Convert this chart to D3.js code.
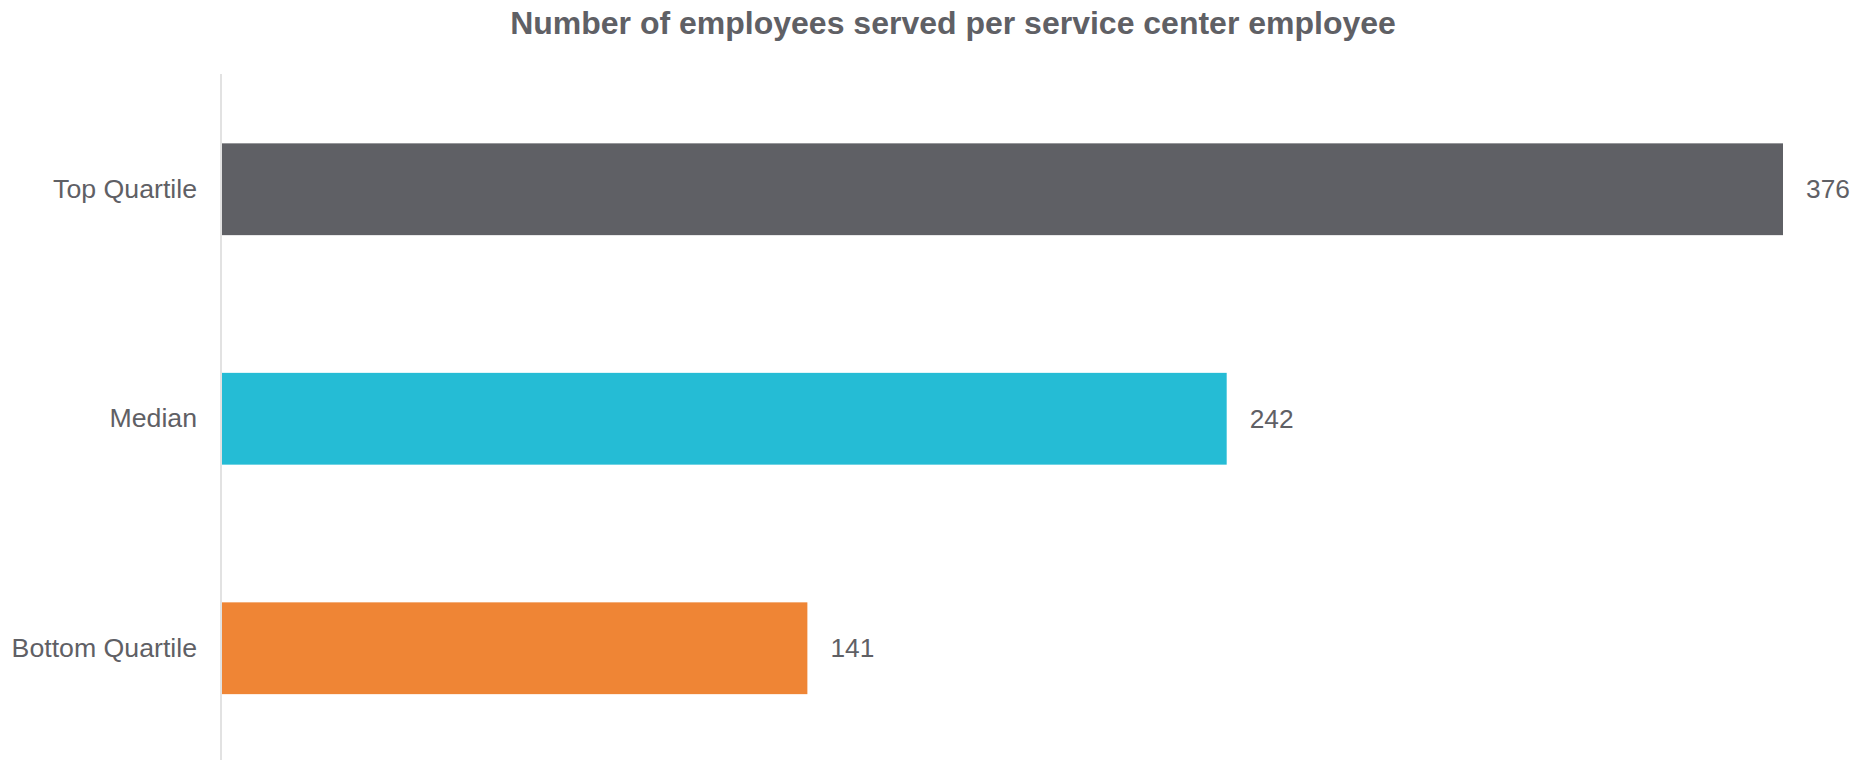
<!DOCTYPE html>
<html>
<head>
<meta charset="utf-8">
<script src="https://cdn.jsdelivr.net/npm/d3@7"></script>
<style>
  html, body { margin: 0; padding: 0; background: #ffffff; }
  svg { display: block; }
</style>
</head>
<body>
<svg id="chart" width="1862" height="760"></svg>
<script>
// Chart data
const categories = ["Top Quartile", "Median", "Bottom Quartile"];
const values = [376, 242, 141];
const barColors = ["#5f6065", "#25bcd5", "#ef8535"];
const titleText = "Number of employees served per service center employee";

const width = 1862, height = 760;
const svg = d3.select("#chart");
const textColor = "#5f6065";
const fontFamily = "'Liberation Sans', Arial, Helvetica, sans-serif";

// Scales
const x = d3.scaleLinear().domain([0, 376]).range([222, 1783]);
const y = d3.scaleBand().domain(categories).range([74.5, 763]).paddingInner(0.6).paddingOuter(0.3);

// Title
svg.append("text")
  .attr("x", 953)
  .attr("y", 34)
  .attr("text-anchor", "middle")
  .attr("font-family", fontFamily)
  .attr("font-size", 32)
  .attr("font-weight", "bold")
  .attr("fill", textColor)
  .text(titleText);

// Bars
const rows = categories.map((c, i) => ({ cat: c, val: values[i], color: barColors[i] }));

svg.append("g")
  .selectAll("rect")
  .data(rows)
  .join("rect")
  .attr("x", x(0))
  .attr("y", d => y(d.cat))
  .attr("width", d => x(d.val) - x(0))
  .attr("height", y.bandwidth())
  .attr("fill", d => d.color);

// Category axis
const yAxis = svg.append("g")
  .attr("transform", `translate(${x(0) - 1},0)`)
  .call(d3.axisLeft(y).tickSize(0).tickPadding(24));
yAxis.select(".domain").remove();
yAxis.append("line")
  .attr("x1", 0).attr("x2", 0)
  .attr("y1", 74).attr("y2", height)
  .attr("stroke", "#d9d9d9")
  .attr("stroke-width", 1.5);
yAxis.selectAll(".tick text")
  .attr("font-family", fontFamily)
  .attr("font-size", 26.7)
  .attr("fill", textColor);

// Value labels
svg.append("g")
  .selectAll("text")
  .data(rows)
  .join("text")
  .attr("x", d => x(d.val) + 23)
  .attr("y", d => y(d.cat) + y.bandwidth() / 2)
  .attr("dy", "0.35em")
  .attr("font-family", fontFamily)
  .attr("font-size", 26.3)
  .attr("fill", textColor)
  .text(d => d.val);
</script>
</body>
</html>
